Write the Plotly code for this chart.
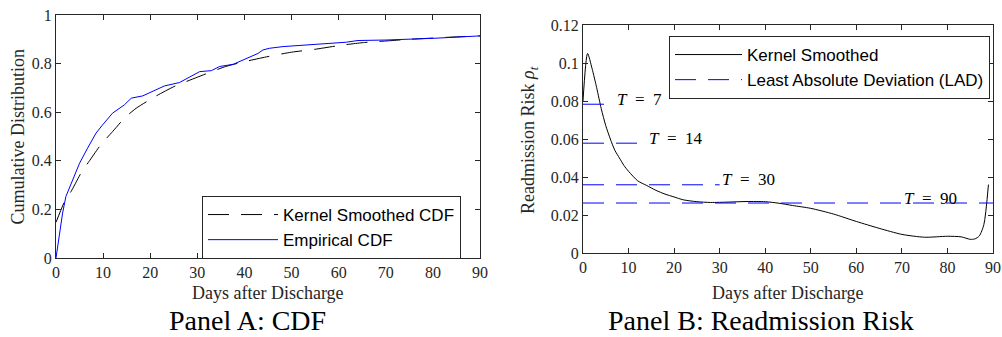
import plotly.graph_objects as go

# ---------------- data ----------------
# Panel A: CDF
emp_days = [0, 1.4, 2.1, 3.2, 5, 6.7, 8.5, 9.9, 12, 14.5, 16, 18.4, 21.3, 23, 26.2, 29, 30.5,
            33, 34.7, 37.6, 40, 42.9, 43.9, 45.3, 48.2, 55.3, 58.8, 61.6, 64.1, 70, 80, 90]
emp_cdf = [0, 0.185, 0.253, 0.308, 0.39, 0.452, 0.514, 0.548, 0.596, 0.63, 0.658, 0.667, 0.695,
           0.708, 0.722, 0.753, 0.767, 0.771, 0.788, 0.797, 0.818, 0.842, 0.856, 0.863, 0.870,
           0.879, 0.886, 0.888, 0.895, 0.897, 0.904, 0.914]
ker_days = [0, 2, 3.2, 5.5, 7, 9.5, 12, 14.5, 17, 21, 25, 30, 36, 40, 45, 50, 55, 60, 65, 70, 75, 80, 85, 90]
ker_cdf = [0.147, 0.24, 0.274, 0.356, 0.397, 0.466, 0.52, 0.575, 0.616, 0.664, 0.705, 0.744,
           0.788, 0.808, 0.829, 0.847, 0.859, 0.874, 0.886, 0.893, 0.9, 0.905, 0.91, 0.914]

# Panel B: readmission risk
risk_days = [0, 1, 2, 3, 4, 5, 6, 7, 8, 9, 10, 12, 14, 16, 18, 20, 22, 25, 28, 32, 36, 40, 43,
             46, 50, 55, 60, 65, 70, 75, 80, 83, 85, 86, 87, 88, 89]
risk_vals = [0.080, 0.105, 0.097, 0.087, 0.076, 0.067, 0.060, 0.054, 0.050, 0.046, 0.043, 0.038,
             0.0355, 0.033, 0.031, 0.0295, 0.028, 0.027, 0.0266, 0.0268, 0.0271, 0.027, 0.0262,
             0.025, 0.0235, 0.0205, 0.0166, 0.013, 0.0098, 0.0083, 0.0088, 0.0085, 0.0072,
             0.0074, 0.009, 0.015, 0.036]
lad_T = [7, 14, 30, 90]
lad_vals = [0.0783, 0.0578, 0.0359, 0.0263]
lad_label_x = [7, 14, 30, 70]
lad_label_y = [0.081, 0.0603, 0.0386, 0.0289]

x_ticks = [0, 10, 20, 30, 40, 50, 60, 70, 80, 90]
x_ticklabels = ["0", "10", "20", "30", "40", "50", "60", "70", "80", "90"]
cdf_ticks = [0, 0.2, 0.4, 0.6, 0.8, 1]
cdf_ticklabels = ["0", "0.2", "0.4", "0.6", "0.8", "1"]
risk_ticks = [0, 0.02, 0.04, 0.06, 0.08, 0.1, 0.12]
risk_ticklabels = ["0", "0.02", "0.04", "0.06", "0.08", "0.1", "0.12"]

# ---------------- style ----------------
SERIF = "Liberation Serif"
SANS = "Liberation Sans"
AX = "#262626"
BLUE = "#0000ff"
DASH = "21px,12px"

fig = go.Figure()

fig.add_trace(go.Scatter(x=ker_days, y=ker_cdf, mode="lines", name="Kernel Smoothed CDF",
                         line=dict(color="black", width=1, dash=DASH, shape="spline", smoothing=0.6),
                         xaxis="x", yaxis="y", legend="legend"))
fig.add_trace(go.Scatter(x=emp_days, y=emp_cdf, mode="lines", name="Empirical CDF",
                         line=dict(color=BLUE, width=1),
                         xaxis="x", yaxis="y", legend="legend"))

fig.add_trace(go.Scatter(x=risk_days, y=risk_vals, mode="lines", name="Kernel Smoothed",
                         line=dict(color="black", width=1, shape="spline", smoothing=0.7),
                         xaxis="x2", yaxis="y2", legend="legend2"))
for i, (T, v) in enumerate(zip(lad_T, lad_vals)):
    fig.add_trace(go.Scatter(x=[0, T], y=[v, v], mode="lines",
                             name="Least Absolute Deviation (LAD)",
                             line=dict(color=BLUE, width=1, dash=DASH),
                             showlegend=(i == 0),
                             xaxis="x2", yaxis="y2", legend="legend2"))

for T, lx, ly in zip(lad_T, lad_label_x, lad_label_y):
    fig.add_annotation(x=lx, y=ly, xref="x2", yref="y2", xanchor="left", yanchor="middle",
                       text="<i>T</i>\u2002=\u2002" + str(T), showarrow=False,
                       font=dict(family=SERIF, size=17, color="black"))


def axis_style():
    return dict(showline=True, linecolor=AX, linewidth=1, mirror="ticks", ticks="inside",
                ticklen=5, tickcolor=AX, showgrid=False, zeroline=False,
                tickfont=dict(family=SERIF, size=16, color=AX), automargin=False)


fig.update_layout(
    width=1002, height=337,
    margin=dict(l=0, r=0, t=0, b=0),
    paper_bgcolor="white", plot_bgcolor="white",
    xaxis=dict(domain=[56 / 1002, 480 / 1002], range=[0, 90], tickvals=x_ticks,
               ticktext=x_ticklabels, anchor="y", **axis_style()),
    yaxis=dict(domain=[1 - 258 / 337, 1 - 15 / 337], range=[0, 1], tickvals=cdf_ticks,
               ticktext=cdf_ticklabels, anchor="x", **axis_style()),
    xaxis2=dict(domain=[583 / 1002, 993 / 1002], range=[0, 90], tickvals=x_ticks,
                ticktext=x_ticklabels, anchor="y2", **axis_style()),
    yaxis2=dict(domain=[1 - 253 / 337, 1 - 25 / 337], range=[0, 0.12], tickvals=risk_ticks,
                ticktext=risk_ticklabels, anchor="x2", **axis_style()),
    legend=dict(x=202 / 1002, y=1 - 196 / 337, xanchor="left", yanchor="top",
                bgcolor="white", bordercolor=AX, borderwidth=1, itemwidth=70,
                font=dict(family=SANS, size=17, color="black")),
    legend2=dict(x=669 / 1002, y=1 - 36 / 337, xanchor="left", yanchor="top",
                 bgcolor="white", bordercolor=AX, borderwidth=1, itemwidth=67,
                 font=dict(family=SANS, size=17, color="black")),
)


def paper_text(x, y, text, size, angle=0, color=AX):
    fig.add_annotation(x=x / 1002, y=1 - y / 337, xref="paper", yref="paper",
                       xanchor="center", yanchor="middle", text=text, showarrow=False,
                       textangle=angle, font=dict(family=SERIF, size=size, color=color))


# axis titles and panel titles
paper_text(268, 293, "Days after Discharge", 18)
paper_text(788, 293, "Days after Discharge", 18)
paper_text(17.5, 137, "Cumulative Distribution", 18, angle=-90)
paper_text(529, 140, "Readmission Risk <i>ρ<sub>t</sub></i>", 18, angle=-90)
paper_text(247, 320, "Panel A: CDF", 28, color="black")
paper_text(761, 320, "Panel B: Readmission Risk", 28, color="black")

fig.write_html("out.html")
